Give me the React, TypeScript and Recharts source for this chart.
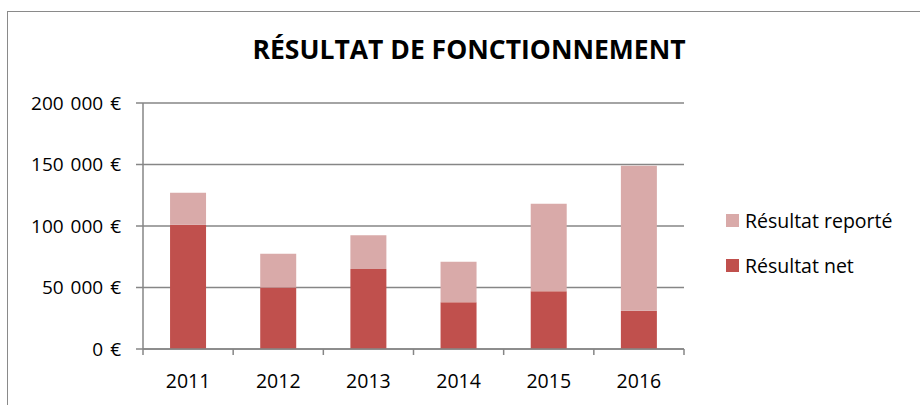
import { BarChart, Bar, XAxis, YAxis, CartesianGrid } from 'recharts';

const YEARS = ['2011', '2012', '2013', '2014', '2015', '2016'];
const NET = [101000, 50000, 65000, 38000, 47000, 31000];
const REPORTE = [26000, 27500, 27500, 33000, 71000, 118000];
const Y_TICKS = [0, 50000, 100000, 150000, 200000];

const data = YEARS.map((year, i) => ({
  year,
  net: NET[i],
  reporte: REPORTE[i],
}));

const FONT = '"Open Sans", sans-serif';
const AXIS = '#868686';
const NET_COLOR = '#C0504D';
const REPORTE_COLOR = '#D9AAA9';

const W = 920;
const H = 405;
const MARGIN = { top: 103, right: 236, bottom: 0, left: 0 };
const Y_AXIS_W = 143;
const BAND = (W - MARGIN.left - MARGIN.right - Y_AXIS_W) / YEARS.length;

const euro = (v: number) =>
  String(v).replace(/\B(?=(\d{3})+(?!\d))/g, ' ') + ' €';

// tick marks sit on the category edges, label in the middle (Excel style)
const YearTick = (props: any) => {
  const { x, y, payload, index } = props;
  const last = index === YEARS.length - 1;
  return (
    <g>
      <line x1={x - BAND / 2} x2={x - BAND / 2} y1={y} y2={y + 6} stroke={AXIS} strokeWidth={1.5} />
      {last && (
        <line x1={x + BAND / 2} x2={x + BAND / 2} y1={y} y2={y + 6} stroke={AXIS} strokeWidth={1.5} />
      )}
      <text x={x} y={y + 39} textAnchor='middle' fontSize={19.5} fontFamily={FONT} fill='#000'>
        {payload.value}
      </text>
    </g>
  );
};

const legendItems = [
  { label: 'Résultat reporté', color: REPORTE_COLOR },
  { label: 'Résultat net', color: NET_COLOR },
];

export default function App() {
  return (
    <div
      style={{
        position: 'absolute',
        left: 0,
        top: 0,
        width: W,
        height: H,
        overflow: 'hidden',
        background: '#fff',
        fontFamily: FONT,
      }}
    >
      <div
        style={{
          position: 'absolute',
          left: 7,
          top: 11,
          width: 1000,
          height: 600,
          borderLeft: '1px solid #8a8a8a',
          borderTop: '1px solid #8a8a8a',
        }}
      />
      <div
        style={{
          position: 'absolute',
          left: 0,
          width: 938,
          top: 29,
          textAlign: 'center',
          fontSize: 26.5,
          fontWeight: 700,
          lineHeight: '40px',
          color: '#000',
        }}
      >
        RÉSULTAT DE FONCTIONNEMENT
      </div>
      <div style={{ position: 'absolute', left: 0, top: 0 }}>
        <BarChart
          width={W}
          height={H}
          data={data}
          margin={MARGIN}
          barCategoryGap='30%'
          style={{ fontFamily: FONT }}
        >
          <CartesianGrid vertical={false} stroke={AXIS} strokeWidth={1.5} />
          <XAxis
            dataKey='year'
            interval={0}
            height={56}
            tickSize={0}
            tickMargin={0}
            tickLine={false}
            axisLine={{ stroke: AXIS, strokeWidth: 1.5 }}
            tick={<YearTick />}
          />
          <YAxis
            width={Y_AXIS_W}
            domain={[0, 200000]}
            ticks={Y_TICKS}
            interval={0}
            tickFormatter={euro}
            tickSize={7}
            tickMargin={15}
            tickLine={{ stroke: AXIS, strokeWidth: 1.5 }}
            axisLine={{ stroke: AXIS, strokeWidth: 1.5 }}
            tick={{ fontSize: 19, fill: '#000', fontFamily: FONT, style: { wordSpacing: 2 } }}
          />
          <Bar dataKey='net' stackId='a' fill={NET_COLOR} isAnimationActive={false} />
          <Bar dataKey='reporte' stackId='a' fill={REPORTE_COLOR} isAnimationActive={false} />
        </BarChart>
      </div>
      {legendItems.map((item, i) => (
        <div
          key={item.label}
          style={{
            position: 'absolute',
            left: 726,
            top: 206 + i * 45,
            height: 28,
            display: 'flex',
            alignItems: 'center',
            fontSize: 19.5,
            color: '#000',
            whiteSpace: 'nowrap',
          }}
        >
          <span
            style={{
              display: 'inline-block',
              width: 13,
              height: 13,
              background: item.color,
              marginRight: 6,
            }}
          />
          {item.label}
        </div>
      ))}
    </div>
  );
}
